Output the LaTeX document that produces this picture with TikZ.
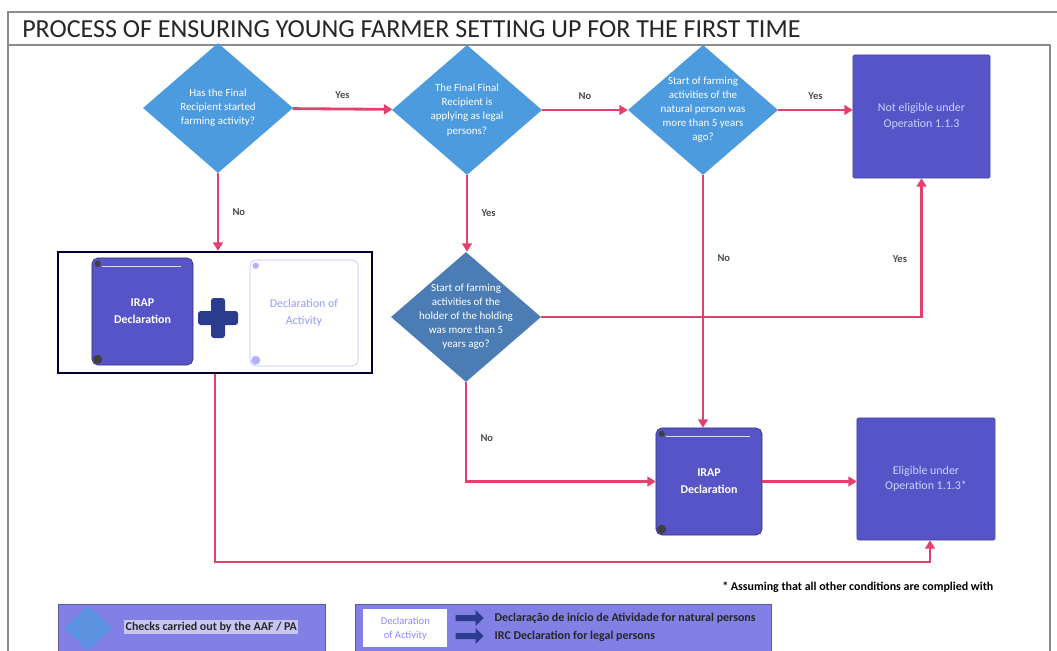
\documentclass[tikz,border=0pt]{standalone}
\usepackage{fontspec}
\setmainfont{Carlito}
\usetikzlibrary{positioning,calc,arrows.meta,shapes.geometric,shapes.arrows}
\definecolor{chkblue}{HTML}{4B9BDE}
\definecolor{chkdark}{HTML}{4B7DB4}
\definecolor{opfill}{HTML}{5654C6}
\definecolor{optext}{HTML}{C9D3FF}
\definecolor{flowred}{HTML}{E3416C}
\definecolor{legfill}{HTML}{8280E4}
\definecolor{plusblue}{HTML}{2B3C8E}
\definecolor{framegray}{HTML}{8C8C8C}

\begin{document}
\begin{tikzpicture}[x=0.025cm,y=-0.025cm,
	check/.style={diamond, fill=chkblue, text=white, aspect=1.15, minimum width=3.75cm, minimum height=3.25cm, inner sep=-9pt, align=center, font=\fontsize{7.8}{10}\selectfont},
	opbox/.style={rectangle, fill=opfill, draw=opfill!80!black, text=optext, align=center, rounded corners=1pt, font=\fontsize{8.5}{11}\selectfont},
	irap/.style={rectangle, fill=opfill, draw=opfill!60!black, text=white, align=center, rounded corners=4pt, minimum height=2.675cm, font=\fontsize{8.5}{12}\selectfont\bfseries},
	flow/.style={draw=flowred, line width=2pt, -{Triangle[length=6pt,width=7pt]}},
	lbl/.style={font=\fontsize{7.5}{8}\selectfont\bfseries, text=black!70},
	legtxt/.style={font=\fontsize{8.5}{9}\selectfont\bfseries, text=black!85, anchor=west, inner sep=1pt}]
	\useasboundingbox (0,0) rectangle (1057,650);
	\clip (0,0) rectangle (1057,650);

	\draw[framegray, line width=0.8pt] (1057,12) -- (8,12) -- (8,660);
	\draw[framegray, line width=0.8pt] (8,45) -- (1050,45) -- (1050,660);
	\node[anchor=west, inner sep=0pt, font=\fontsize{18.5}{20}\selectfont, text=black!85] (title) at (22,29) {PROCESS OF ENSURING YOUNG FARMER SETTING UP FOR THE FIRST TIME};

	\node[check] (started) at (218,108) {Has the Final\\Recipient started\\farming activity?};
	\node[check] (legal) at (467,110) {The Final Final\\Recipient is\\applying as legal\\persons?};
	\node[check] (natural) at (703,110) {Start of farming\\activities of the\\natural person was\\more than 5 years\\ago?};
	\node[opbox, minimum width=3.425cm, minimum height=3.075cm] (noelig) at (921.5,116.5) {Not eligible under\\Operation 1.1.3};
	\node[check, fill=chkdark] (holder) at (466,317) {Start of farming\\activities of the\\holder of the holding\\was more than 5\\years ago?};

	\node[draw=black!80!blue, line width=1.6pt, fill=white, minimum width=7.85cm, minimum height=3.025cm] (pair) at (215,312.5) {};
	\node[irap, minimum width=2.525cm] (irapA) at (142.5,311.5) {IRAP\\Declaration};
	\node[rectangle, draw=blue!25, fill=white, rounded corners=4pt, minimum width=2.7cm, minimum height=2.65cm, align=center, text=blue!40, font=\fontsize{8.5}{12}\selectfont] (activity) at (304,313) {Declaration of\\Activity};
	\fill[plusblue, rounded corners=2pt] (211,298) rectangle (225,338);
	\fill[plusblue, rounded corners=2pt] (198,311) rectangle (238,325);

	\node[irap, minimum width=2.65cm] (irapB) at (709,481.5) {IRAP\\Declaration};
	\node[opbox, minimum width=3.45cm, minimum height=3.05cm] (elig) at (926,479) {Eligible under\\Operation 1.1.3*};

	\foreach \n in {irapA, irapB}{
		\draw[white!80!opfill, line width=0.8pt] ($(\n.north west)+(10,9)$) -- ($(\n.north east)+(-12,9)$);
		\fill[black!75] ($(\n.south west)+(6,-6)$) circle (3.2pt);
		\fill[black!75] ($(\n.north west)+(6,6)$) circle (2.2pt);
	}
	\fill[blue!30] ($(activity.south west)+(6,-6)$) circle (3.2pt);
	\fill[blue!30] ($(activity.north west)+(6,6)$) circle (2.2pt);

	\draw[flow] (started) -- node[lbl, above=3pt] {Yes} (legal);
	\draw[flow] (legal) -- node[lbl, above=3pt] {No} (natural);
	\draw[flow] (natural.east) -- node[lbl, above=3pt] {Yes} (natural.east -| noelig.west);
	\draw[flow] (started) -- node[lbl, right=6pt] {No} (started |- pair.north);
	\draw[flow] (legal) -- node[lbl, right=6pt] {Yes} (legal |- holder.north);
	\draw[flow] (natural) -- node[lbl, pos=0.33, right=6pt] {No} (natural |- irapB.north);
	\draw[flow] (holder.east) -| node[lbl, pos=0.71, left=6pt] {Yes} (noelig.south);
	\draw[flow] (holder.south) |- node[lbl, pos=0.28, right=6pt] {No} (irapB.west);
	\draw[flow] (irapB.east) -- (irapB.east -| elig.west);
	\coordinate (loop) at (930,562);
	\draw[flow] (pair.south) |- (loop) -- (loop |- elig.south);

	\node[font=\fontsize{8.5}{9}\selectfont\bfseries, anchor=west, inner sep=0pt] (note) at (722,587) {* Assuming that all other conditions are complied with};

	\node[draw=legfill!70!black, fill=legfill, minimum width=6.675cm, minimum height=1.4cm, anchor=north west] (legA) at (58,604) {};
	\node[diamond, fill=chkblue!70!legfill, minimum width=1.2cm, minimum height=1.1cm, inner sep=0pt] (legchk) at (88,628) {};
	\node[legtxt, fill=legfill!45!white] (legAtxt) at (124,627) {Checks carried out by the AAF / PA};

	\node[draw=legfill!70!black, fill=legfill, minimum width=10.4cm, minimum height=1.4cm, anchor=north west] (legB) at (355,604) {};
	\node[rectangle, fill=white, minimum width=2.1cm, minimum height=0.95cm, align=center, text=blue!45, font=\fontsize{7.5}{10}\selectfont, anchor=north west] (legdoa) at (363,609) {Declaration\\of Activity};
	\node[single arrow, fill=plusblue, minimum height=0.7cm, minimum width=0.4cm, single arrow head extend=2pt, inner sep=1pt] (arrA) at (468,618) {};
	\node[single arrow, fill=plusblue, minimum height=0.7cm, minimum width=0.4cm, single arrow head extend=2pt, inner sep=1pt] (arrB) at (468,636) {};
	\node[legtxt] (legBa) at (493,618) {Declaração de início de Atividade for natural persons};
	\node[legtxt] (legBb) at (493,636) {IRC Declaration for legal persons};
\end{tikzpicture}
\end{document}
